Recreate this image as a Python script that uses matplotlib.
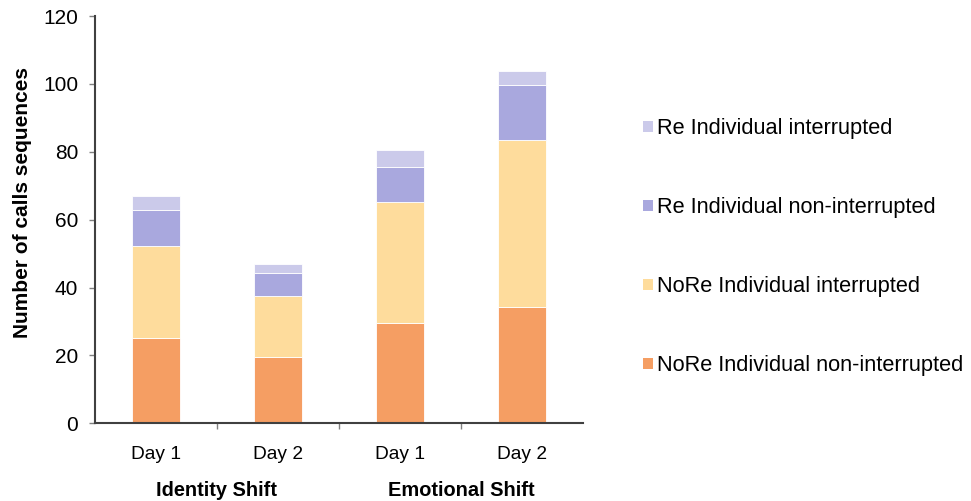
import matplotlib
matplotlib.use("Agg")
import matplotlib.pyplot as plt
from matplotlib.patches import Patch
from matplotlib.transforms import blended_transform_factory

plt.rcParams['font.family'] = ['Liberation Sans', 'DejaVu Sans']

days = ["Day 1", "Day 2", "Day 1", "Day 2"]
groups = ["Identity Shift", "Emotional Shift"]
series_names = ["NoRe Individual non-interrupted", "NoRe Individual interrupted",
                "Re Individual non-interrupted", "Re Individual interrupted"]
nore_nonint = [25.0, 19.5, 29.5, 34.3]
nore_int = [27.3, 17.9, 35.6, 49.2]
re_nonint = [10.5, 7.0, 10.4, 16.2]
re_int = [4.1, 2.6, 4.9, 4.0]
colors = ["#F59E63", "#FEDC9C", "#A9A8DE", "#CBCAEA"]

fig = plt.figure(figsize=(9.71, 5.01), dpi=100)
ax = fig.add_axes([95/971, 1-423.3/501, (583-95)/971, (423.3-16)/501])

x = list(range(len(days)))
bottom = [0.0]*len(days)
handles = []
for vals, c, name in zip([nore_nonint, nore_int, re_nonint, re_int], colors, series_names):
    ax.bar(x, vals, width=0.4, bottom=bottom, color=c, edgecolor='white', linewidth=0.6, zorder=2)
    bottom = [b+v for b, v in zip(bottom, vals)]
    handles.append(Patch(facecolor=c, edgecolor='none', label=name))

ax.set_xlim(-0.5, 3.5)
ax.set_ylim(0, 120)
ax.set_yticks(range(0, 121, 20))
ax.set_xticks(x)
ax.set_xticklabels(days, fontsize=13.8)
ax.set_xticks([0.5, 1.5, 2.5], minor=True)
ax.tick_params(axis='x', which='major', length=0, pad=16.5)
ax.tick_params(axis='x', which='minor', length=4, direction='out', color='#808080', width=1)
ax.tick_params(axis='y', length=4, direction='out', color='#808080', width=1, labelsize=15, pad=8)
for s in ['top', 'right']:
    ax.spines[s].set_visible(False)
for s in ['left', 'bottom']:
    ax.spines[s].set_color('#404040')
    ax.spines[s].set_linewidth(1.5)

ax.set_ylabel("Number of calls sequences", fontsize=15, fontweight='bold')
ax.yaxis.set_label_coords(-0.129, 0.543)

tr = blended_transform_factory(ax.transData, fig.transFigure)
ax.text(0.5, 1-490/501, groups[0], transform=tr, ha='center', va='center', fontsize=14.4, fontweight='bold')
ax.text(2.5, 1-490/501, groups[1], transform=tr, ha='center', va='center', fontsize=14.4, fontweight='bold')

leg = fig.legend(handles[::-1], series_names[::-1], loc='upper left',
                 bbox_to_anchor=(643/971, 1-118/501), frameon=False, fontsize=15.7,
                 handlelength=0.46, handleheight=0.42, handletextpad=0.2, labelspacing=2.66,
                 borderaxespad=0, borderpad=0)

fig.savefig("out.png", dpi=100)
